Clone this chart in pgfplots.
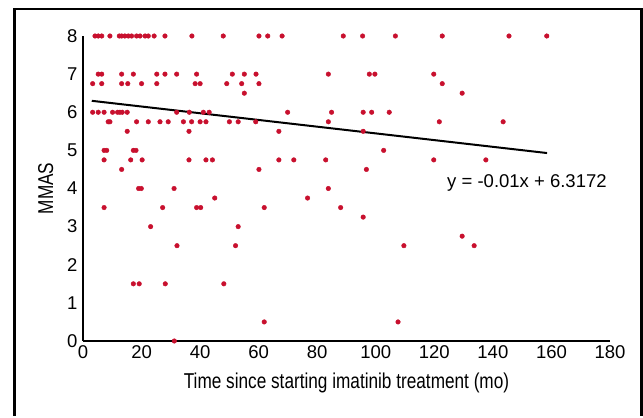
\documentclass[border=0pt]{standalone}
\usepackage{fontspec}
\setmainfont{Liberation Sans}
\newfontfamily\narrowfont[FakeStretch=0.8]{Liberation Sans}
\usepackage{pgfplots}
\pgfplotsset{compat=1.18}
\definecolor{dotred}{RGB}{200,16,46}

\begin{document}
\begin{tikzpicture}
% page and open frame
\path (0pt,0pt) rectangle (643pt,416pt);
\draw[line width=2.5pt] (14.5pt,0pt) -- (14.5pt,407pt) -- (641.5pt,407pt) -- (641.5pt,0pt);
\begin{axis}[
  at={(83pt,75pt)}, anchor=south west,
  scale only axis, width=527pt, height=305pt,
  xmin=0, xmax=180, ymin=0, ymax=8,
  axis x line=bottom, axis y line=left,
  axis line style={line width=2pt, -},
  xtick={0,20,...,180}, ytick={0,1,...,8},
  major tick length=0pt,
  tick label style={font=\fontsize{18.5}{21}\selectfont},
  /pgf/number format/assume math mode=true,
  yticklabel style={xshift=-2pt},
  xticklabel style={yshift=-1pt},
  xlabel={\narrowfont\fontsize{21.5}{24}\selectfont Time since starting imatinib treatment (mo)},
  ylabel={\narrowfont\fontsize{21.5}{24}\selectfont MMAS},
  xlabel style={yshift=-7pt},
  ylabel style={yshift=7pt},
  clip=false,
]
\addplot[only marks, mark=*, mark size=2.3pt, color=dotred] coordinates {
  (4.1,8) (5.2,8) (6.4,8) (9.2,8) (12.4,8) (13.2,8) (14.3,8) (15.5,8) (16.6,8)
  (18.3,8) (19.5,8) (21.2,8) (22.3,8) (24.3,8) (28.0,8) (37.2,8) (47.9,8)
  (60.1,8) (63.1,8) (68.0,8) (88.9,8) (95.5,8) (106.7,8) (122.7,8) (145.5,8) (158.4,8)
  (5.2,7) (6.4,7) (13.2,7) (17.2,7) (25.2,7) (28.0,7) (32.0,7) (38.8,7)
  (51.0,7) (55.1,7) (59.1,7) (83.8,7) (97.8,7) (99.7,7) (119.8,7)
  (3.3,6.75) (6.4,6.75) (13.2,6.75) (15.3,6.75) (20.0,6.75) (25.2,6.75)
  (38.3,6.75) (40.0,6.75) (49.1,6.75) (54.2,6.75) (60.1,6.75) (122.7,6.75)
  (55.1,6.5) (129.5,6.5)
  (3.3,6) (5.2,6) (7.2,6) (10.1,6) (11.8,6) (12.6,6) (13.4,6) (15.1,6)
  (32.0,6) (36.3,6) (41.1,6) (43.1,6) (69.9,6) (84.9,6) (95.7,6) (98.6,6) (104.6,6)
  (8.6,5.75) (9.2,5.75) (18.3,5.75) (22.3,5.75) (26.3,5.75) (29.1,5.75)
  (34.3,5.75) (37.1,5.75) (40.0,5.75) (42.0,5.75) (50.0,5.75) (53.0,5.75)
  (59.0,5.75) (83.8,5.75) (121.7,5.75) (143.5,5.75)
  (15.1,5.5) (36.2,5.5) (66.9,5.5) (95.7,5.5)
  (7.2,5) (8.1,5) (17.2,5) (18.1,5) (102.7,5)
  (7.2,4.75) (16.3,4.75) (20.2,4.75) (36.2,4.75) (42.0,4.75) (44.2,4.75)
  (66.9,4.75) (72.0,4.75) (82.9,4.75) (119.8,4.75) (137.6,4.75)
  (13.2,4.5) (60.1,4.5) (96.8,4.5)
  (19.0,4) (19.9,4) (31.1,4) (83.8,4)
  (45.0,3.75) (76.7,3.75)
  (7.2,3.5) (27.2,3.5) (38.8,3.5) (40.2,3.5) (61.9,3.5) (88.0,3.5)
  (95.7,3.25)
  (23.1,3) (53.0,3)
  (129.5,2.75)
  (32.1,2.5) (52.1,2.5) (109.6,2.5) (133.6,2.5)
  (17.2,1.5) (19.2,1.5) (28.1,1.5) (48.1,1.5)
  (61.9,0.5) (107.6,0.5)
  (31.2,0)
};
% trend line
\addplot[black, line width=2pt] coordinates {(3,6.30) (158.5,4.93)};
\node[anchor=west, font=\fontsize{18.5}{21}\selectfont] at (axis cs:123.2,4.15) {y = -0.01x + 6.3172};
\end{axis}
\end{tikzpicture}
\end{document}
